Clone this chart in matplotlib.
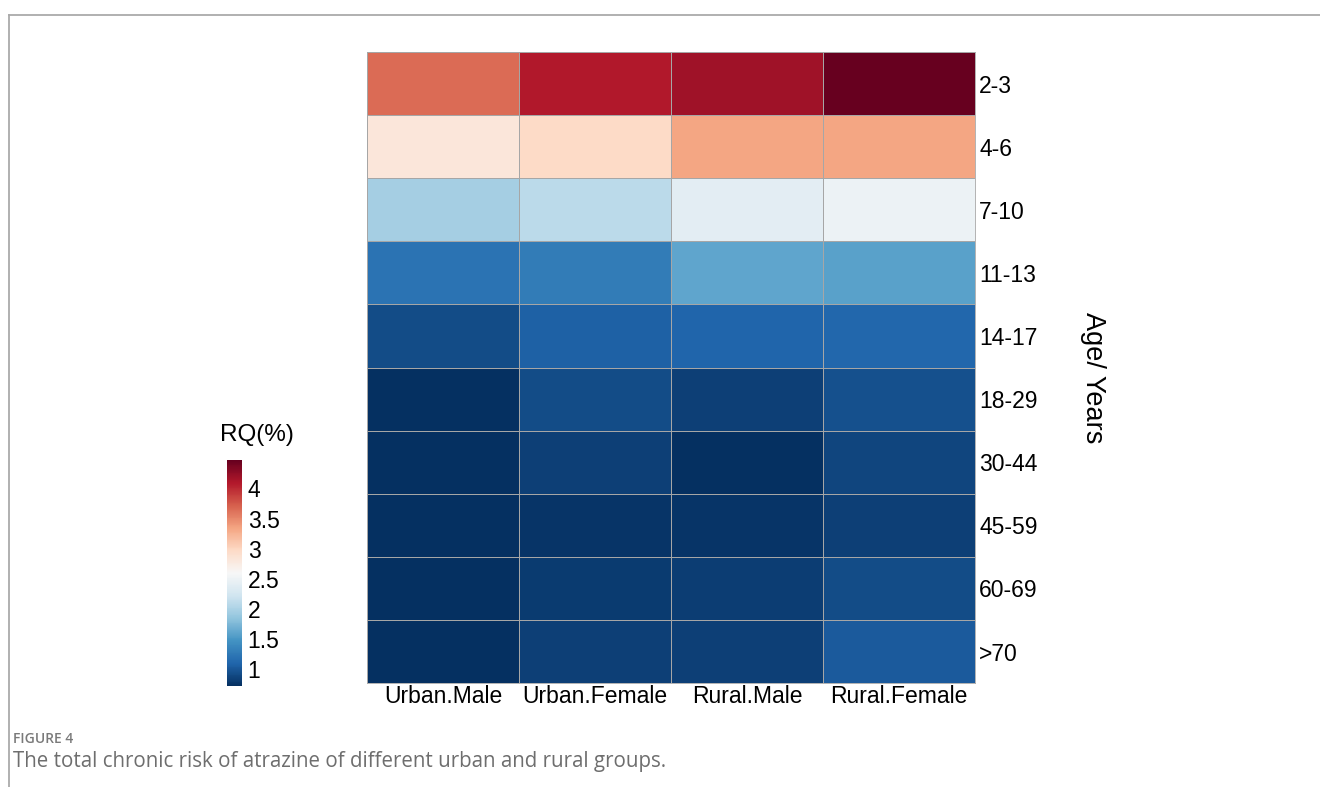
import matplotlib
matplotlib.use("Agg")
import matplotlib.pyplot as plt
import numpy as np
from matplotlib.lines import Line2D

plt.rcParams['font.family'] = ['Liberation Sans', 'DejaVu Sans']

# 数据
groups = ['Urban.Male', 'Urban.Female', 'Rural.Male', 'Rural.Female']
ages = ['2-3', '4-6', '7-10', '11-13', '14-17', '18-29', '30-44', '45-59', '60-69', '>70']
rq_2_3 = [3.66, 4.09, 4.19, 4.47]
rq_4_6 = [2.82, 2.97, 3.34, 3.34]
rq_7_10 = [1.96, 2.09, 2.39, 2.49]
rq_11_13 = [1.21, 1.28, 1.60, 1.57]
rq_14_17 = [0.92, 1.06, 1.10, 1.11]
rq_18_29 = [0.72, 0.92, 0.83, 0.95]
rq_30_44 = [0.73, 0.83, 0.72, 0.87]
rq_45_59 = [0.73, 0.75, 0.76, 0.83]
rq_60_69 = [0.73, 0.80, 0.81, 0.92]
rq_70 = [0.72, 0.83, 0.83, 1.02]
cbar_ticks = [1, 1.5, 2, 2.5, 3, 3.5, 4]

data = np.array([rq_2_3, rq_4_6, rq_7_10, rq_11_13, rq_14_17,
                 rq_18_29, rq_30_44, rq_45_59, rq_60_69, rq_70])

fig = plt.figure(figsize=(13.2, 7.87), dpi=100)

# 热图
ax = fig.add_axes([0.278, 0.132, 0.4606, 0.802])
mesh = ax.pcolormesh(data, cmap='RdBu_r', vmin=data.min(), vmax=data.max(),
                     edgecolors='#a6a6a6', linewidth=0.6)
ax.set_xlim(0, len(groups))
ax.set_ylim(len(ages), 0)
for s in ax.spines.values():
    s.set_color('#a6a6a6')
    s.set_linewidth(0.6)

ax.set_xticks(np.arange(len(groups)) + 0.5)
ax.set_xticklabels(groups, fontsize=16.5)
ax.yaxis.tick_right()
ax.set_yticks(np.arange(len(ages)) + 0.5)
ax.set_yticklabels(ages, fontsize=16.5)
ax.tick_params(length=0, pad=3)
ax.tick_params(axis='x', pad=1)

fig.text(0.828, 0.52, 'Age/ Years', rotation=-90, fontsize=19.5,
         ha='center', va='center')

# 色条
cax = fig.add_axes([0.172, 0.1283, 0.0114, 0.287])
cb = fig.colorbar(mesh, cax=cax)
cb.outline.set_visible(False)
cb.set_ticks(cbar_ticks)
cb.set_ticklabels(['1', '1.5', '2', '2.5', '3', '3.5', '4'])
cax.tick_params(length=0, labelsize=16.5, pad=4)
fig.text(0.1667, 0.447, 'RQ(%)', fontsize=17.5, ha='left', va='center')

# 边框与图注
fig.add_artist(Line2D([0.0068, 1.0], [0.981, 0.981], color='#aaaaaa', linewidth=1.3))
fig.add_artist(Line2D([0.0068, 0.0068], [0.0, 0.981], color='#aaaaaa', linewidth=1.3))
fig.text(0.0098, 0.061, 'FIGURE 4', fontsize=10, color='#7a7a7a', fontweight='semibold',
         family=['Open Sans', 'DejaVu Sans'], ha='left', va='center')
fig.text(0.0098, 0.032, 'The total chronic risk of atrazine of different urban and rural groups.',
         fontsize=14.8, color='#6e6e6e', family=['Open Sans', 'DejaVu Sans'],
         ha='left', va='center')

fig.savefig('out.png', dpi=100)
